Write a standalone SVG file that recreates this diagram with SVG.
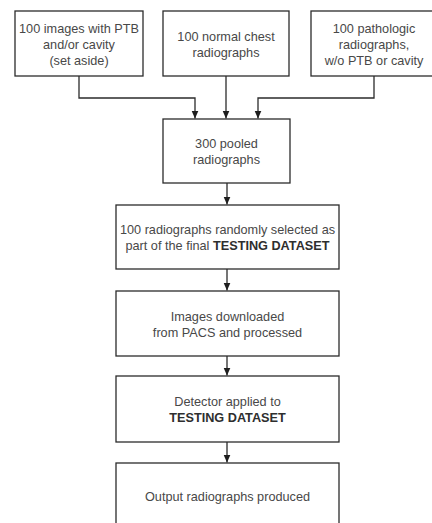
<svg xmlns="http://www.w3.org/2000/svg" width="432" height="523" viewBox="0 0 432 523">
  <style>
    .box { fill: #ffffff; stroke: #2b2b2b; stroke-width: 1.3; }
    .lbl { font-family: "Liberation Sans", Arial, sans-serif; font-size: 12.7px; fill: #484848; text-anchor: middle; }
    .b { font-weight: bold; fill: #2e2e2e; }
    .wire { fill: none; stroke: #2b2b2b; stroke-width: 1.3; }
  </style>
  <defs>
    <marker id="head" viewBox="0 0 8 8" refX="8" refY="4" markerWidth="8" markerHeight="8" markerUnits="userSpaceOnUse" orient="auto">
      <path d="M0,0.5 L8,4 L0,7.5 Z" fill="#1e1e1e"/>
    </marker>
  </defs>
  <rect width="432" height="523" fill="#ffffff"/>

  <g id="connectors">
    <path class="wire" d="M79,76 V98 H195 V118.5" marker-end="url(#head)"/>
    <path class="wire" d="M226,76 V118.5" marker-end="url(#head)"/>
    <path class="wire" d="M374,76 V98 H258 V118.5" marker-end="url(#head)"/>
    <path class="wire" d="M227,183 V204.5" marker-end="url(#head)"/>
    <path class="wire" d="M227,269 V290.5" marker-end="url(#head)"/>
    <path class="wire" d="M227,356 V375.5" marker-end="url(#head)"/>
    <path class="wire" d="M227,442 V462.5" marker-end="url(#head)"/>
  </g>

  <g id="ptb-set-aside">
    <rect class="box" x="15" y="11" width="128" height="65"/>
    <text class="lbl" x="79" y="32.5">100 images with PTB</text>
    <text class="lbl" x="79" y="48.5">and/or cavity</text>
    <text class="lbl" x="79" y="64.5">(set aside)</text>
  </g>

  <g id="normal-chest">
    <rect class="box" x="163" y="11" width="126" height="65"/>
    <text class="lbl" x="226" y="40.5">100 normal chest</text>
    <text class="lbl" x="226" y="56.5">radiographs</text>
  </g>

  <g id="pathologic">
    <rect class="box" x="311" y="11" width="126" height="65"/>
    <text class="lbl" x="374" y="32.5">100 pathologic</text>
    <text class="lbl" x="374" y="48.5">radiographs,</text>
    <text class="lbl" x="374" y="64.5">w/o PTB or cavity</text>
  </g>

  <g id="pooled">
    <rect class="box" x="163" y="119" width="127" height="64"/>
    <text class="lbl" x="226.5" y="147.5">300 pooled</text>
    <text class="lbl" x="226.5" y="163.5">radiographs</text>
  </g>

  <g id="random-selection">
    <rect class="box" x="116" y="205" width="223" height="64"/>
    <text class="lbl" x="227.5" y="233.5">100 radiographs randomly selected as</text>
    <text class="lbl" x="227.5" y="249.5">part of the final <tspan class="b">TESTING DATASET</tspan></text>
  </g>

  <g id="downloaded">
    <rect class="box" x="116" y="291" width="223" height="65"/>
    <text class="lbl" x="227.5" y="320.5">Images downloaded</text>
    <text class="lbl" x="227.5" y="336.5">from PACS and processed</text>
  </g>

  <g id="detector">
    <rect class="box" x="116" y="376" width="223" height="66"/>
    <text class="lbl" x="227.5" y="406">Detector applied to</text>
    <text class="lbl b" x="227.5" y="422">TESTING DATASET</text>
  </g>

  <g id="output">
    <rect class="box" x="116" y="463" width="223" height="66"/>
    <text class="lbl" x="227.5" y="500.5">Output radiographs produced</text>
  </g>
</svg>
